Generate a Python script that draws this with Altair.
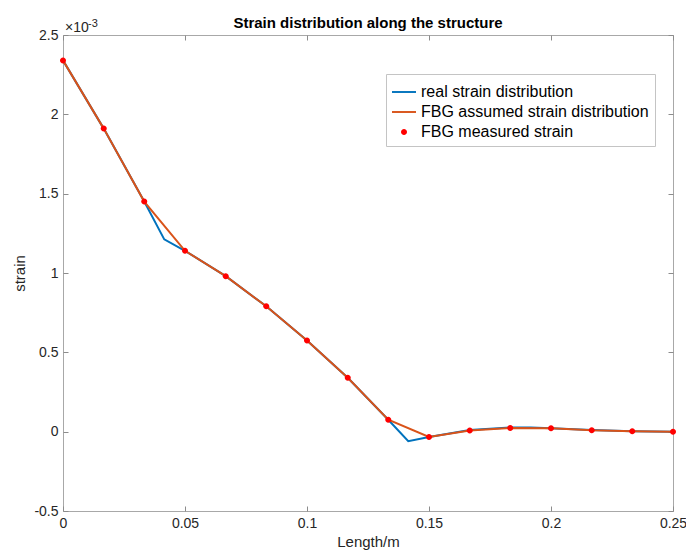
import altair as alt
import pandas as pd

# FBG grating positions along the structure (m) and the strain each one reports
fbg_pos = [0, 0.0167, 0.0333, 0.05, 0.0667, 0.0833, 0.1, 0.1167, 0.1333,
           0.15, 0.1667, 0.1833, 0.2, 0.2167, 0.2333, 0.25]
fbg_strain = [2.34e-3, 1.91e-3, 1.45e-3, 1.14e-3, 0.98e-3, 0.79e-3, 0.575e-3,
              0.34e-3, 0.075e-3, -0.033e-3, 0.007e-3, 0.023e-3, 0.021e-3,
              0.009e-3, 0.003e-3, 0.0]

# real strain distribution (finer sampling where it departs from the FBG readings)
real_pos = [0, 0.0167, 0.0333, 0.0415, 0.05, 0.0667, 0.0833, 0.1, 0.1167,
            0.1333, 0.1415, 0.15, 0.1667, 0.1833, 0.1917, 0.2, 0.2167, 0.2333, 0.25]
real_strain = [2.34e-3, 1.91e-3, 1.45e-3, 1.212e-3, 1.14e-3, 0.98e-3, 0.79e-3,
               0.575e-3, 0.34e-3, 0.075e-3, -0.06e-3, -0.033e-3, 0.01e-3,
               0.026e-3, 0.027e-3, 0.022e-3, 0.01e-3, 0.003e-3, 0.0]

series = ["real strain distribution", "FBG assumed strain distribution", "FBG measured strain"]
series_colors = ["#0072BD", "#D95319", "#FF0000"]

x_ticks = [0, 0.05, 0.1, 0.15, 0.2, 0.25]
y_ticks = [-0.0005, 0, 0.0005, 0.001, 0.0015, 0.002, 0.0025]

real_df = pd.DataFrame({"pos": real_pos, "strain": real_strain, "series": series[0]})
assumed_df = pd.DataFrame({"pos": fbg_pos, "strain": fbg_strain, "series": series[1]})
measured_df = pd.DataFrame({"pos": fbg_pos, "strain": fbg_strain, "series": series[2]})

FONT = "Liberation Sans"
xs = alt.Scale(domain=[0, 0.25], nice=False, zero=False)
ys = alt.Scale(domain=[-0.0005, 0.0025], nice=False, zero=False)
cs = alt.Scale(domain=series, range=series_colors)
# legend glyphs: thin bars for the lines, a small dot for the measurements
ss = alt.Scale(domain=series, range=["M-1,-0.08H1V0.08H-1Z",
                                     "M-1,-0.08H1V0.08H-1Z",
                                     "M-0.25,0A0.25,0.25,0,1,0,0.25,0A0.25,0.25,0,1,0,-0.25,0Z"])

y_label = "replace(format(datum.value * 1000, '.1~f'), '\u2212', '-')"

common_axis = dict(offset=-5, tickSize=5, domain=False, grid=False,
                   labelFlush=False, labelOverlap=False)

x_bottom = alt.Axis(orient="bottom", values=x_ticks, format=".2~f", labelPadding=5,
                    title="Length/m", titlePadding=4, **common_axis)
y_left = alt.Axis(orient="left", values=y_ticks, labelExpr=y_label, labelPadding=5,
                  title="strain", titlePadding=6, **common_axis)
x_top = alt.Axis(orient="top", values=x_ticks, labels=False, title=None, **common_axis)
y_right = alt.Axis(orient="right", values=y_ticks, labels=False, title=None, **common_axis)

legend = alt.Legend(title=None, orient="none", legendX=323, legendY=39, padding=6,
                    strokeColor="#c4c4c4", fillColor="white", labelFontSize=16,
                    labelFont=FONT, labelColor="black", labelLimit=400, symbolSize=576,
                    symbolStrokeWidth=0, labelOffset=5, rowPadding=0)

real_line = alt.Chart(real_df).mark_line(strokeWidth=2, color=series_colors[0]).encode(
    x=alt.X("pos:Q", scale=xs, axis=x_bottom),
    y=alt.Y("strain:Q", scale=ys, axis=y_left),
)

assumed_line = alt.Chart(assumed_df).mark_line(strokeWidth=2, color=series_colors[1]).encode(
    x=alt.X("pos:Q", scale=xs, axis=x_top),
    y=alt.Y("strain:Q", scale=ys, axis=y_right),
)

measured_pts = alt.Chart(measured_df).mark_point(
    filled=True, opacity=1, size=576, strokeWidth=0
).encode(
    x=alt.X("pos:Q", scale=xs, axis=None),
    y=alt.Y("strain:Q", scale=ys, axis=None),
    color=alt.Color("series:N", scale=cs, legend=legend),
    shape=alt.Shape("series:N", scale=ss, legend=legend),
)

# axis exponent marker
exp_base = alt.Chart(pd.DataFrame({"t": ["\u00d710"]})).mark_text(
    align="left", baseline="alphabetic", fontSize=14, font=FONT, color="#262626"
).encode(x=alt.value(2), y=alt.value(-3), text="t:N")
exp_pow = alt.Chart(pd.DataFrame({"t": ["-3"]})).mark_text(
    align="left", baseline="alphabetic", fontSize=11, font=FONT, color="#262626"
).encode(x=alt.value(25), y=alt.value(-8), text="t:N")

chart = alt.layer(real_line, assumed_line, measured_pts, exp_base, exp_pow).resolve_axis(
    x="independent", y="independent"
).properties(
    width=610, height=476,
    padding={"left": 63, "top": 35, "right": 13, "bottom": 41},
    autosize=alt.AutoSizeParams(type="none"),
    title=alt.TitleParams("Strain distribution along the structure", fontSize=15,
                          fontWeight="bold", font=FONT, anchor="middle", offset=-13,
                          color="black"),
    background="white",
).configure_view(
    stroke="#a8a8a8", strokeWidth=1
).configure_axis(
    labelFont=FONT, titleFont=FONT, labelFontSize=14, titleFontSize=15,
    titleFontWeight="normal", labelColor="#262626", titleColor="#262626",
    tickColor="#8c8c8c", tickWidth=1
)

chart.save("out.html", embed_options={"renderer": "svg", "actions": False})
